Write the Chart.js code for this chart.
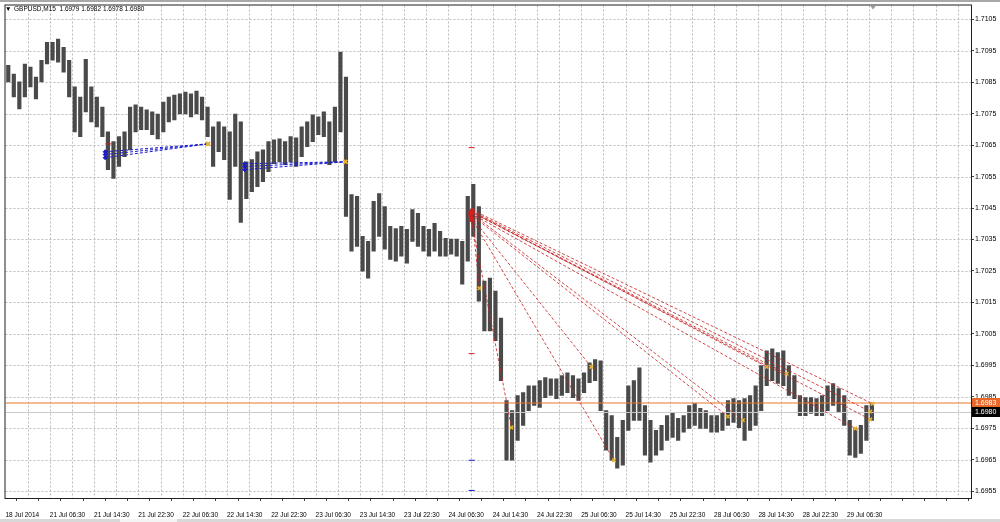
<!DOCTYPE html>
<html>
<head>
<meta charset="utf-8">
<title>GBPUSD,M15</title>
<script src="https://cdn.jsdelivr.net/npm/chart.js@4.4.0/dist/chart.umd.min.js"></script>
<style>
  html, body { margin: 0; padding: 0; background: #fff; }
  #wrap { width: 1000px; height: 522px; position: relative; }
</style>
</head>
<body>
<div id="wrap"><canvas id="chart" width="1000" height="522"></canvas></div>
<script>
// =========================
// DATA (x = trading hours since 18 Jul 22:30, one bar per hour)
// =========================
const hourLows = [
  1.70851, 1.70803, 1.70765, 1.70803, 1.70835, 1.70797, 1.70851, 1.70908, 1.70920, 1.70914,
  1.70882, 1.70803, 1.70692, 1.70677, 1.70756, 1.70724, 1.70708, 1.70677, 1.70572, 1.70544,
  1.70582, 1.70613, 1.70635, 1.70692, 1.70699, 1.70699, 1.70683, 1.70670, 1.70692, 1.70724,
  1.70730, 1.70749, 1.70749, 1.70740, 1.70749, 1.70730, 1.70677, 1.70582, 1.70629, 1.70604,
  1.70477, 1.70582, 1.70404, 1.70480, 1.70502, 1.70518, 1.70534, 1.70566, 1.70591, 1.70597,
  1.70588, 1.70597, 1.70582, 1.70613, 1.70645, 1.70661, 1.70683, 1.70677, 1.70588, 1.70597,
  1.70692, 1.70423, 1.70313, 1.70328, 1.70249, 1.70227, 1.70313, 1.70360, 1.70319, 1.70287,
  1.70281, 1.70297, 1.70275, 1.70344, 1.70328, 1.70313, 1.70297, 1.70313, 1.70297, 1.70297,
  1.70303, 1.70297, 1.70208, 1.70281, 1.70360, 1.70154, 1.70059, 1.70059, 1.70028, 1.69901,
  1.69648, 1.69648, 1.69711, 1.69759, 1.69806, 1.69822, 1.69816, 1.69847, 1.69854, 1.69844,
  1.69854, 1.69863, 1.69847, 1.69838, 1.69863, 1.69895, 1.69901, 1.69806, 1.69680, 1.69648,
  1.69623, 1.69632, 1.69743, 1.69775, 1.69775, 1.69664, 1.69642, 1.69664, 1.69680, 1.69711,
  1.69721, 1.69711, 1.69737, 1.69749, 1.69759, 1.69749, 1.69749, 1.69737, 1.69737, 1.69743,
  1.69759, 1.69768, 1.69752, 1.69711, 1.69743, 1.69759, 1.69806, 1.69885, 1.69901, 1.69892,
  1.69885, 1.69854, 1.69844, 1.69790, 1.69790, 1.69797, 1.69790, 1.69790, 1.69806, 1.69822,
  1.69800, 1.69759, 1.69664, 1.69657, 1.69670, 1.69711, 1.69775
];

const hourHighs = [
  1.70904, 1.70876, 1.70851, 1.70908, 1.70898, 1.70866, 1.70920, 1.70977, 1.70977, 1.70987,
  1.70961, 1.70920, 1.70835, 1.70803, 1.70923, 1.70835, 1.70803, 1.70771, 1.70692, 1.70661,
  1.70677, 1.70692, 1.70771, 1.70778, 1.70771, 1.70762, 1.70756, 1.70749, 1.70787, 1.70803,
  1.70809, 1.70813, 1.70819, 1.70813, 1.70822, 1.70803, 1.70771, 1.70708, 1.70724, 1.70708,
  1.70692, 1.70749, 1.70724, 1.70597, 1.70604, 1.70629, 1.70635, 1.70661, 1.70667, 1.70670,
  1.70661, 1.70677, 1.70673, 1.70708, 1.70724, 1.70746, 1.70740, 1.70756, 1.70724, 1.70771,
  1.70946, 1.70866, 1.70493, 1.70487, 1.70360, 1.70344, 1.70471, 1.70496, 1.70455, 1.70392,
  1.70385, 1.70392, 1.70382, 1.70445, 1.70433, 1.70392, 1.70382, 1.70401, 1.70376, 1.70354,
  1.70351, 1.70351, 1.70344, 1.70487, 1.70525, 1.70455, 1.70218, 1.70227, 1.70186, 1.70100,
  1.69838, 1.69806, 1.69854, 1.69863, 1.69885, 1.69885, 1.69901, 1.69911, 1.69907, 1.69907,
  1.69917, 1.69926, 1.69917, 1.69907, 1.69926, 1.69958, 1.69968, 1.69964, 1.69806, 1.69790,
  1.69721, 1.69775, 1.69885, 1.69901, 1.69942, 1.69822, 1.69775, 1.69743, 1.69759, 1.69790,
  1.69797, 1.69781, 1.69790, 1.69822, 1.69828, 1.69813, 1.69806, 1.69790, 1.69790, 1.69800,
  1.69838, 1.69844, 1.69838, 1.69844, 1.69854, 1.69885, 1.69949, 1.69996, 1.70002, 1.69990,
  1.69996, 1.69949, 1.69917, 1.69854, 1.69847, 1.69847, 1.69844, 1.69854, 1.69885, 1.69892,
  1.69876, 1.69854, 1.69775, 1.69749, 1.69759, 1.69822, 1.69828
];

// one label every 8 hours, starting at hour 0
const timeLabels = [
  '18 Jul 2014', '21 Jul 06:30', '21 Jul 14:30', '21 Jul 22:30',
  '22 Jul 06:30', '22 Jul 14:30', '22 Jul 22:30', '23 Jul 06:30',
  '23 Jul 14:30', '23 Jul 22:30', '24 Jul 06:30', '24 Jul 14:30',
  '24 Jul 22:30', '25 Jul 06:30', '25 Jul 14:30', '25 Jul 22:30',
  '28 Jul 06:30', '28 Jul 14:30', '28 Jul 22:30', '29 Jul 06:30'
];

// vertical grid every 4 hours
const hourTicks = [
  0, 4, 8, 12, 16, 20, 24, 28, 32, 36, 40, 44, 48, 52, 56, 60, 64, 68, 72, 76, 80, 84,
  88, 92, 96, 100, 104, 108, 112, 116, 120, 124, 128, 132, 136, 140, 144, 148, 152,
  156, 160, 164, 168, 172
];

const priceTicks = [
  1.6955, 1.6965, 1.6975, 1.6985, 1.6995, 1.7005, 1.7015, 1.7025,
  1.7035, 1.7045, 1.7055, 1.7065, 1.7075, 1.7085, 1.7095, 1.7105
];

const askPrice = 1.6983;
const bidPrice = 1.6980;
const lastBar = ['1.6979', '1.6982', '1.6978', '1.6980'];

// trend lines: [startHour, startPrice, endHour, endPrice]
const redLines = [
  [84.3, 1.70415, 85.6, 1.70195],
  [84.2, 1.70410, 91.4, 1.69752],
  [84.1, 1.70420, 109.9, 1.69648],
  [84.0, 1.70425, 105.8, 1.69945],
  [84.0, 1.70430, 130.5, 1.69787],
  [84.0, 1.70435, 133.2, 1.69775],
  [84.1, 1.70440, 137.5, 1.69945],
  [84.1, 1.70438, 141.1, 1.69923],
  [84.2, 1.70432, 153.5, 1.69749],
  [84.3, 1.70444, 156.6, 1.69828],
  [84.3, 1.70440, 156.2, 1.69803],
  [84.3, 1.70436, 156.2, 1.69778]
];

const blueLines = [
  [18.0, 1.70629, 36.6, 1.70654],
  [18.0, 1.70620, 36.6, 1.70654],
  [18.0, 1.70610, 36.6, 1.70654],
  [43.2, 1.70591, 61.4, 1.70597],
  [43.2, 1.70582, 61.4, 1.70597],
  [43.2, 1.70572, 61.4, 1.70597]
];

// short level marks on the 24 Jul bar
const redMarks = [[84.2, 1.70642], [84.2, 1.69987], [18.6, 1.70654]];
const blueMarks = [[84.2, 1.69648], [84.2, 1.69552]];

const X_MAX = 174.4;
const Y_MIN = 1.69528;
const Y_MAX = 1.71094;
const FONT = { family: 'Liberation Sans', size: 6.5 };
const GRID_COLOR = '#bcbcbc';

// ========================
// DATASETS
// ========================
const barData = hourLows.map((lo, i) => ({ x: i + 0.5, y: [lo, hourHighs[i]] }));

function segDataset(seg, color) {
  return {
    type: 'line',
    data: [{ x: seg[0], y: seg[1] }, { x: seg[2], y: seg[3] }],
    borderColor: color,
    borderWidth: 1,
    borderDash: [3, 2],
    pointRadius: 0,
    fill: false,
    order: 1
  };
}

const datasets = [
  {
    type: 'bar',
    data: barData,
    backgroundColor: '#4a4a4a',
    barThickness: 3.5,
    order: 3
  },
  {
    type: 'line',
    data: [{ x: 0, y: askPrice }, { x: X_MAX, y: askPrice }],
    borderColor: '#e8782a',
    borderWidth: 1,
    pointRadius: 0,
    order: 2
  },
  {
    type: 'line',
    data: [{ x: 0, y: bidPrice }, { x: X_MAX, y: bidPrice }],
    borderColor: '#c8c8c8',
    borderWidth: 1,
    pointRadius: 0,
    order: 2
  }
];

redLines.forEach(s => datasets.push(segDataset(s, 'rgba(200,40,40,0.85)')));
blueLines.forEach(s => datasets.push(segDataset(s, '#1a1ad0')));

// origin markers
datasets.push({
  type: 'line',
  showLine: false,
  data: redLines.map(s => ({ x: s[0], y: s[1] })),
  pointStyle: 'rectRot',
  pointRadius: 2,
  pointBackgroundColor: '#d02020',
  pointBorderColor: '#d02020',
  order: 0
});
datasets.push({
  type: 'line',
  showLine: false,
  data: blueLines.map(s => ({ x: s[0], y: s[1] })),
  pointStyle: 'rectRot',
  pointRadius: 2,
  pointBackgroundColor: '#1a1ad0',
  pointBorderColor: '#1a1ad0',
  order: 0
});
// end markers
datasets.push({
  type: 'line',
  showLine: false,
  data: redLines.concat(blueLines).map(s => ({ x: s[2], y: s[3] })),
  pointStyle: 'crossRot',
  pointRadius: 2.5,
  pointBorderWidth: 1.5,
  pointBorderColor: '#e8b030',
  order: 0
});
// short level marks
datasets.push({
  type: 'line',
  showLine: false,
  data: redMarks.map(m => ({ x: m[0], y: m[1] })),
  pointStyle: 'line',
  pointRadius: 3,
  pointBorderWidth: 1,
  pointBorderColor: '#d02020',
  order: 0
});
datasets.push({
  type: 'line',
  showLine: false,
  data: blueMarks.map(m => ({ x: m[0], y: m[1] })),
  pointStyle: 'line',
  pointRadius: 3,
  pointBorderWidth: 1,
  pointBorderColor: '#1a1ad0',
  order: 0
});

// ========================
// GRID (dotted), FRAME, TITLE, PRICE BOXES
// ========================
const overlay = {
  id: 'overlay',
  beforeDraw(chart) {
    const ctx = chart.ctx;
    ctx.save();
    ctx.fillStyle = '#fff';
    ctx.fillRect(0, 0, chart.width, chart.height);
    ctx.fillStyle = '#a8a8a8';
    ctx.fillRect(0, 0, chart.width, 2);
    ctx.fillStyle = '#d8d8d8';
    ctx.fillRect(0, 519, chart.width, 3);
    ctx.fillStyle = '#f4f4f4';
    ctx.fillRect(120, 519, 57, 3);
    ctx.restore();
  },
  beforeDatasetsDraw(chart) {
    const { ctx, chartArea: a, scales } = chart;
    ctx.save();
    ctx.strokeStyle = GRID_COLOR;
    ctx.lineWidth = 1;
    ctx.setLineDash([2, 2]);
    hourTicks.forEach(h => {
      const x = Math.round(scales.x.getPixelForValue(h)) + 0.5;
      if (x <= a.left + 1) return;
      ctx.beginPath();
      ctx.moveTo(x, a.top);
      ctx.lineTo(x, a.bottom);
      ctx.stroke();
    });
    priceTicks.forEach(p => {
      const y = Math.round(scales.y.getPixelForValue(p)) + 0.5;
      ctx.beginPath();
      ctx.moveTo(a.left, y);
      ctx.lineTo(a.right, y);
      ctx.stroke();
    });
    ctx.restore();
  },
  afterDraw(chart) {
    const { ctx, chartArea: a, scales } = chart;
    ctx.save();

    ctx.strokeStyle = '#202020';
    ctx.lineWidth = 1;
    ctx.strokeRect(a.left - 0.5, a.top - 0.5, a.right - a.left + 1, a.bottom - a.top + 1);

    // title
    ctx.font = `${FONT.size}px ${FONT.family}`;
    ctx.fillStyle = '#000';
    ctx.textBaseline = 'middle';
    ctx.textAlign = 'left';
    ctx.fillText('\u25BC', 5, 9);
    ctx.fillText('GBPUSD,M15  ' + lastBar.join(' '), 14, 9);

    // chart shift marker
    ctx.fillStyle = '#9a9a9a';
    ctx.beginPath();
    ctx.moveTo(870, a.top);
    ctx.lineTo(876, a.top);
    ctx.lineTo(873, a.top + 4);
    ctx.closePath();
    ctx.fill();

    // price boxes
    ctx.font = `7px ${FONT.family}`;
    const boxes = [[askPrice, '#e8682a'], [bidPrice, '#000']];
    boxes.forEach(([p, color]) => {
      const y = Math.round(scales.y.getPixelForValue(p));
      ctx.fillStyle = color;
      ctx.fillRect(a.right + 1, y - 5, 29, 10);
      ctx.fillStyle = '#fff';
      ctx.fillText(p.toFixed(4), a.right + 4, y);
    });

    ctx.restore();
  }
};

// ========================
// CHART
// ========================
new Chart(document.getElementById('chart'), {
  type: 'bar',
  data: { datasets },
  plugins: [overlay],
  options: {
    responsive: false,
    animation: false,
    events: [],
    layout: { padding: { left: 3, top: 3, right: 0, bottom: 0 } },
    plugins: {
      legend: { display: false },
      tooltip: { enabled: false },
      title: { display: false }
    },
    scales: {
      x: {
        type: 'linear',
        min: 0,
        max: X_MAX,
        offset: false,
        afterBuildTicks: s => { s.ticks = hourTicks.map(v => ({ value: v })); },
        afterFit: s => { s.height = 24; },
        grid: {
          drawOnChartArea: false,
          tickColor: '#404040',
          tickLength: 3,
          drawTicks: true
        },
        border: { display: false },
        ticks: {
          autoSkip: false,
          maxRotation: 0,
          align: 'start',
          padding: 1,
          color: '#000',
          font: { family: FONT.family, size: FONT.size, lineHeight: 4 },
          callback: v => (v % 8 === 0 && v / 8 < timeLabels.length) ? timeLabels[v / 8] : ''
        }
      },
      y: {
        position: 'right',
        min: Y_MIN,
        max: Y_MAX,
        afterBuildTicks: s => { s.ticks = priceTicks.map(v => ({ value: v })); },
        afterFit: s => { s.width = 29; },
        grid: {
          drawOnChartArea: false,
          tickColor: '#404040',
          tickLength: 3
        },
        border: { display: false },
        ticks: {
          padding: 1,
          color: '#000',
          font: { family: FONT.family, size: 7 },
          callback: v => v.toFixed(4)
        }
      }
    }
  }
});
</script>
</body>
</html>
